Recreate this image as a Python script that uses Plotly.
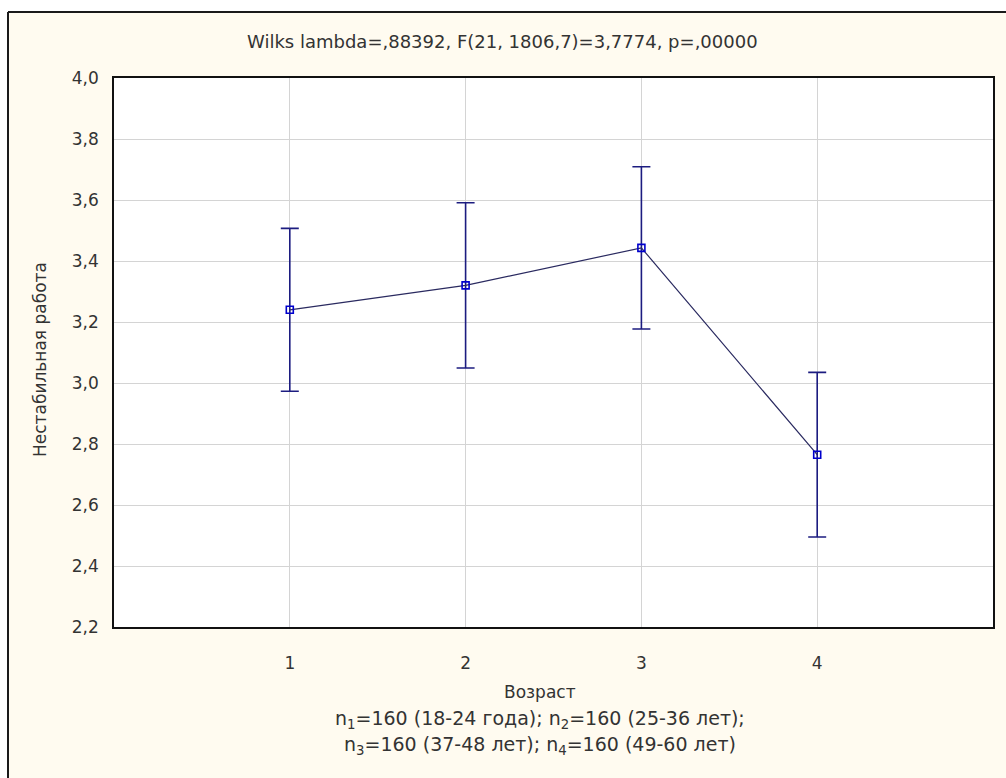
import plotly.graph_objects as go

# Group means and confidence half-widths
groups = [1, 2, 3, 4]
means = [3.240, 3.320, 3.443, 2.765]
half_ci = [0.267, 0.271, 0.266, 0.270]

title_text = "Wilks lambda=,88392, F(21, 1806,7)=3,7774, p=,00000"
y_title = "Нестабильная работа"
x_title = "Возраст"
x_note_1 = "n<sub>1</sub>=160 (18-24 года); n<sub>2</sub>=160 (25-36 лет);"
x_note_2 = "n<sub>3</sub>=160 (37-48 лет); n<sub>4</sub>=160 (49-60 лет)"

FONT = "DejaVu Sans"
TXT = "#333333"
CREAM = "#fffbf0"

W, H = 1006, 778
L, R, T, B = 114, 993, 78, 627


def px(x):
    return (x - L) / (R - L)


def py(y):
    return (B - y) / (B - T)


fig = go.Figure()
fig.add_trace(go.Scatter(
    x=groups, y=means,
    mode="lines+markers",
    line=dict(color="#2a2a60", width=1.2),
    marker=dict(symbol="square-open", size=7, color="#0000cc",
                line=dict(width=1.6, color="#0000cc")),
    error_y=dict(type="data", array=half_ci, visible=True,
                 color="#1c1c80", thickness=1.6, width=9),
    showlegend=False,
))

annotations = [
    dict(text=title_text, x=px(502), y=py(42), size=18),
    dict(text=x_title, x=px(540), y=py(692), size=17),
    dict(text=x_note_1, x=px(540), y=py(719), size=19),
    dict(text=x_note_2, x=px(540), y=py(745), size=19),
    dict(text=y_title, x=px(40), y=py(360), textangle=-90, size=17),
]
for a in annotations:
    size = a.pop("size")
    a.update(xref="paper", yref="paper", showarrow=False,
             xanchor="center", yanchor="middle",
             font=dict(family=FONT, size=size, color=TXT))

shapes = [
    # white strips outside the framed panel
    dict(type="rect", xref="paper", yref="paper", x0=px(-20), x1=px(W + 20),
         y0=py(12), y1=py(-20), fillcolor="white", line=dict(width=0), layer="below"),
    dict(type="rect", xref="paper", yref="paper", x0=px(-20), x1=px(8),
         y0=py(-20), y1=py(H + 20), fillcolor="white", line=dict(width=0), layer="below"),
    # panel frame (top and left edges)
    dict(type="line", xref="paper", yref="paper", x0=px(8), x1=px(W + 20),
         y0=py(12), y1=py(12), line=dict(color="#1a1a1a", width=2)),
    dict(type="line", xref="paper", yref="paper", x0=px(8), x1=px(8),
         y0=py(12), y1=py(H + 20), line=dict(color="#1a1a1a", width=2)),
]

fig.update_layout(
    width=W, height=H,
    margin=dict(l=L, r=W - R, t=T, b=H - B),
    paper_bgcolor=CREAM,
    plot_bgcolor="white",
    separators=", ",
    font=dict(family=FONT, size=17, color=TXT),
    annotations=annotations,
    shapes=shapes,
    xaxis=dict(
        range=[0, 5], tickvals=groups, ticktext=[str(g) for g in groups],
        showgrid=True, gridcolor="#d4d4d4", gridwidth=1,
        zeroline=False, showline=True, mirror=True,
        linecolor="#111111", linewidth=1.5,
        ticks="", ticklabelstandoff=20,
        tickfont=dict(family=FONT, size=17, color=TXT),
    ),
    yaxis=dict(
        range=[2.2, 4.0], dtick=0.2, tick0=2.2, tickformat=".1f",
        showgrid=True, gridcolor="#d4d4d4", gridwidth=1,
        zeroline=False, showline=True, mirror=True,
        linecolor="#111111", linewidth=1.5,
        ticks="", ticklabelstandoff=10,
        tickfont=dict(family=FONT, size=17, color=TXT),
    ),
)

fig.write_html("out.html")
